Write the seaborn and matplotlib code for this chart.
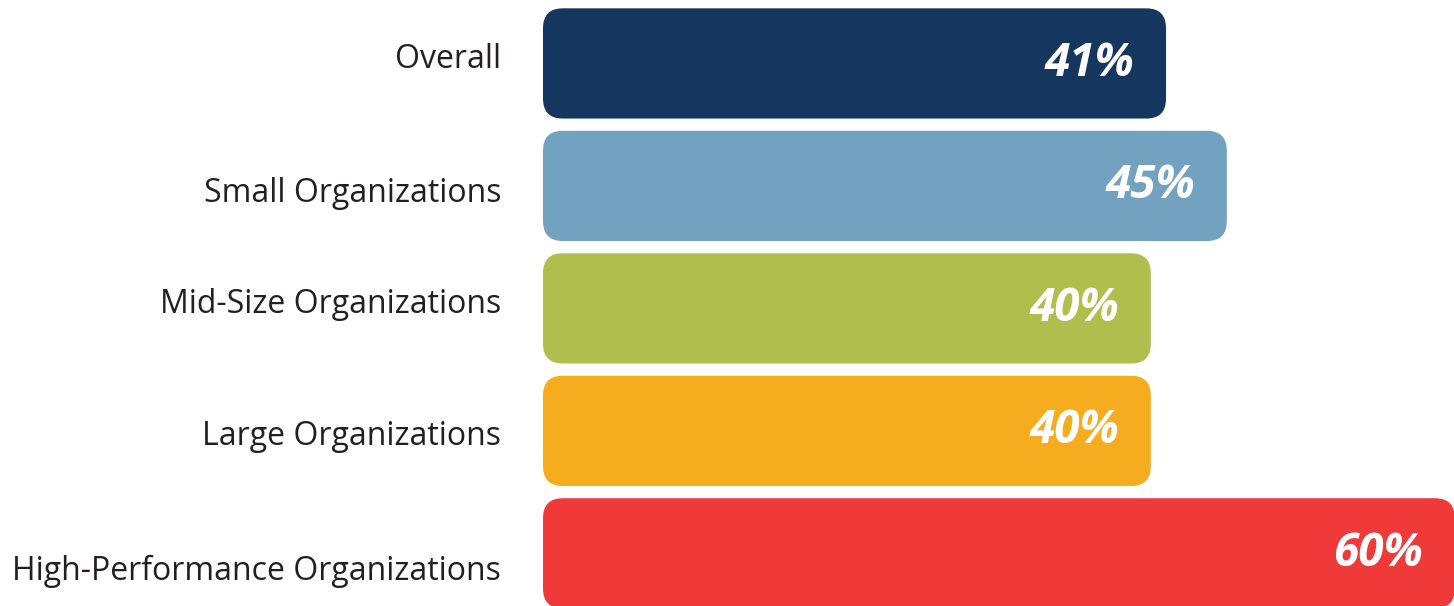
import matplotlib.pyplot as plt
import matplotlib.transforms as mtransforms
import pandas as pd
import seaborn as sns
from matplotlib.patches import FancyBboxPatch

categories = ['Overall', 'Small Organizations', 'Mid-Size Organizations',
              'Large Organizations', 'High-Performance Organizations']
values = [41, 45, 40, 40, 60]
colors = ['#15375F', '#73A2C0', '#AFBE4C', '#F6AC1F', '#EF3A39']

dat = pd.DataFrame({'cat': categories, 'val': values})

sns.set_style('white')
plt.rcParams['font.family'] = ['Open Sans', 'DejaVu Sans']

fig = plt.figure(figsize=(14.54, 6.06), dpi=100)
ax = fig.add_axes([543/1454, 0, 1 - 543/1454, 1])

sns.barplot(data=dat, x='val', y='cat', hue='cat', palette=colors,
            saturation=1, legend=False, orient='h', width=0.9, ax=ax)

ax.set_xlim(0, 59.95)
ax.set_ylim(4.43, -0.518)

# swap the square bars for rounded ones
bars = list(ax.patches)
for bar in bars:
    x0, y0 = bar.get_x(), bar.get_y()
    w, h = bar.get_width(), bar.get_height()
    fc = bar.get_facecolor()
    bar.remove()
    rb = FancyBboxPatch((x0, y0), w, h,
                        boxstyle='round,pad=0,rounding_size=1.3',
                        mutation_aspect=0.125, facecolor=fc,
                        edgecolor='none', clip_on=True)
    ax.add_patch(rb)

for i, v in enumerate(values):
    ax.text(v - 2.1, i, f'{v}%', ha='right', va='center', color='white',
            fontsize=33, fontweight='bold', fontstyle='italic')

ax.set_xlabel('')
ax.set_ylabel('')
ax.set_xticks([])
ax.tick_params(axis='y', length=0, pad=30, labelsize=23, labelcolor='#231F20')
sns.despine(ax=ax, left=True, bottom=True)

# labels in the original sit a little off the bar centres
shifts = [8, -4, 8, -2, -14]
for lab, dy in zip(ax.get_yticklabels(), shifts):
    lab.set_transform(lab.get_transform() +
                      mtransforms.ScaledTranslation(0, dy / 100, fig.dpi_scale_trans))

plt.savefig('out.png', dpi=100)
